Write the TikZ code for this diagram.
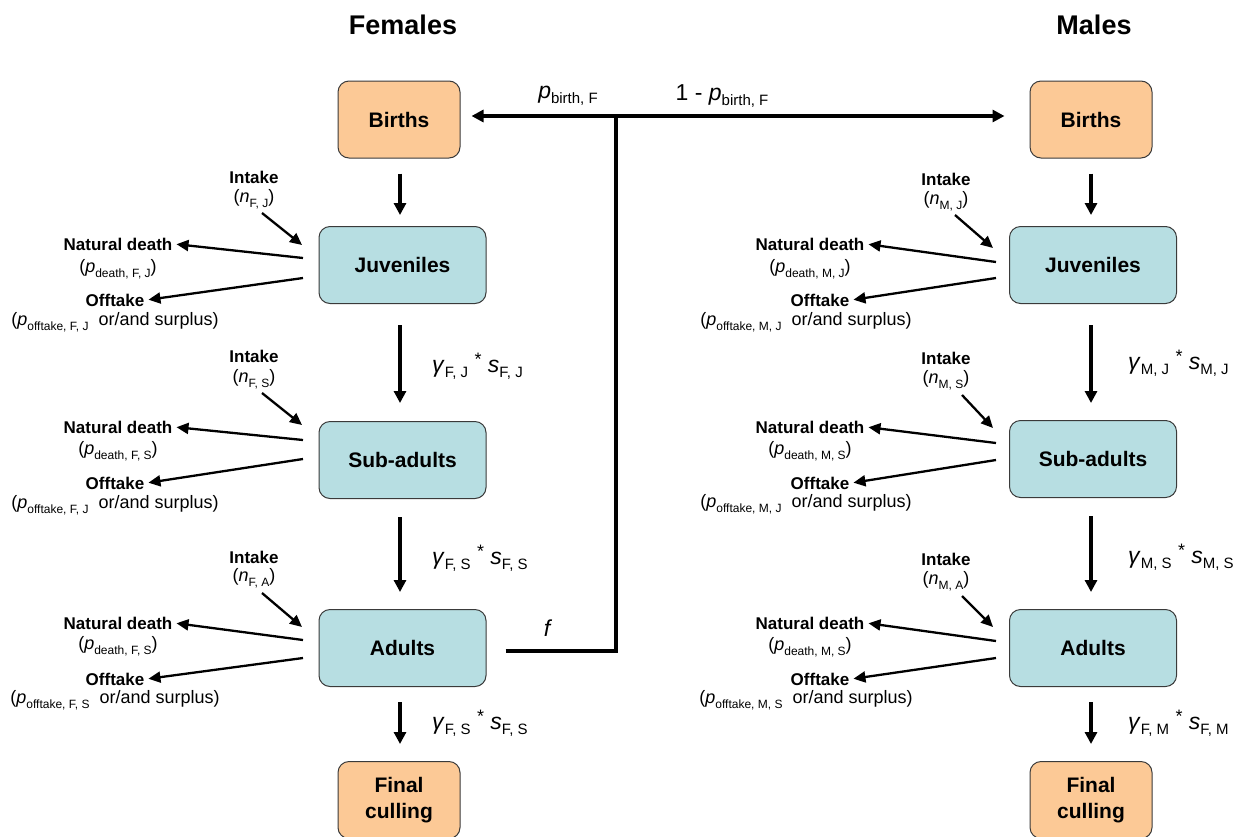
\documentclass[tikz,border=0pt]{standalone}
\usepackage{fontspec}
\setmainfont{Liberation Sans}
\usetikzlibrary{arrows.meta,calc}
\definecolor{orangefill}{HTML}{FCC996}
\definecolor{tealfill}{HTML}{B7DEE2}
\definecolor{boxline}{HTML}{3A3A3A}
\newcommand{\fs}[1]{\fontsize{#1}{#1}\selectfont}
\newcommand{\vsb}[2]{\textit{#1}\raisebox{-0.25em}{\fs{12}#2}}
\newcommand{\vsbb}[2]{\textit{#1}\raisebox{-0.22em}{\fs{15}#2}}
\newcommand{\gstar}{\raisebox{0.3em}{\fs{18}*}}
\begin{document}
\begin{tikzpicture}[x=1pt,y=-1pt,
  box/.style={draw=boxline, rounded corners=11pt, line width=1pt, font=\fs{21}\bfseries, align=center, inner sep=0pt, minimum height=77pt},
  obox/.style={box, fill=orangefill, minimum width=122pt},
  tbox/.style={box, fill=tealfill, minimum width=167pt},
  title/.style={font=\fs{27}\bfseries},
  blab/.style={font=\fs{17}\bfseries, inner sep=2pt},
  rlab/.style={font=\fs{18}, inner sep=2pt},
  glab/.style={font=\fs{23}, inner sep=2pt},
  big/.style={line width=3.5pt, -{Triangle[length=12pt,width=12pt]}},
  bigline/.style={line width=3.5pt},
  side/.style={line width=2.3pt, -{Triangle[length=12pt,width=11pt]}, shorten >=2pt}]
\useasboundingbox (0,0) rectangle (1252,836);

% titles
\node[title] (tF) at (403,25) {Females};
\node[title] (tM) at (1094,25) {Males};

% left column
\node[obox] (birthF) at (399,119.5) {Births};
\node[tbox] (juvF) at (402.5,265) {Juveniles};
\node[tbox] (subF) at (402.5,460) {Sub-adults};
\node[tbox] (adF) at (402.5,648) {Adults};
\node[obox] (cullF) at (399,800) {Final\\[5pt]culling};

% right column
\node[obox] (birthM) at (1091,119.5) {Births};
\node[tbox] (juvM) at (1093,265) {Juveniles};
\node[tbox] (subM) at (1093,459) {Sub-adults};
\node[tbox] (adM) at (1093,648) {Adults};
\node[obox] (cullM) at (1091,800) {Final\\[5pt]culling};

% vertical flows left
\coordinate (cL) at (400,0);
\coordinate (cR) at (1091,0);
\draw[big, shorten <=15pt, shorten >=11pt] (birthF.south -| cL) -- (juvF.north -| cL);
\draw[big, shorten <=21pt, shorten >=18pt] (juvF.south -| cL) -- (subF.north -| cL);
\draw[big, shorten <=18pt, shorten >=17pt] (subF.south -| cL) -- (adF.north -| cL);
\draw[big, shorten <=15pt, shorten >=17pt] (adF.south -| cL) -- (cullF.north -| cL);
% vertical flows right
\draw[big, shorten <=15pt, shorten >=11pt] (birthM.south -| cR) -- (juvM.north -| cR);
\draw[big, shorten <=21pt, shorten >=17pt] (juvM.south -| cR) -- (subM.north -| cR);
\draw[big, shorten <=18pt, shorten >=17pt] (subM.south -| cR) -- (adM.north -| cR);
\draw[big, shorten <=15pt, shorten >=17pt] (adM.south -| cR) -- (cullM.north -| cR);

% transition labels
\node[glab, anchor=west] (gFJ) at (430,366) {\textit{γ}\raisebox{-0.22em}{\fs{15}F, J} \gstar{} \vsbb{s}{F, J}};
\node[glab, anchor=west] (gFS) at (430,558) {\textit{γ}\raisebox{-0.22em}{\fs{15}F, S} \gstar{} \vsbb{s}{F, S}};
\node[glab, anchor=west] (gFS2) at (430,723) {\textit{γ}\raisebox{-0.22em}{\fs{15}F, S} \gstar{} \vsbb{s}{F, S}};
\node[glab, anchor=west] (gMJ) at (1126,363) {\textit{γ}\raisebox{-0.22em}{\fs{15}M, J} \gstar{} \vsbb{s}{M, J}};
\node[glab, anchor=west] (gMS) at (1126,557) {\textit{γ}\raisebox{-0.22em}{\fs{15}M, S} \gstar{} \vsbb{s}{M, S}};
\node[glab, anchor=west] (gFM) at (1126,723) {\textit{γ}\raisebox{-0.22em}{\fs{15}F, M} \gstar{} \vsbb{s}{F, M}};

% birth split
\coordinate (J) at (616,116);
\coordinate (fc) at (616,651);
\draw[big, shorten >=11pt] (J) -- (J -| birthF.east);
\draw[big, shorten >=25pt] (J) -- (J -| birthM.west);
\draw[bigline, line cap=butt, shorten <=19pt] (fc -| adF.east) -- (fc) -- (J);
\node[glab] (pbF) at (568,96) {\vsbb{p}{birth, F}};
\node[glab] (pbM) at (722,96) {1 - \vsbb{p}{birth, F}};
\node[glab] (fl) at (548,628) {\textit{f}};

% ---- left side groups ----
% juveniles F
\node[blab] (iFJ) at (254,177) {Intake};
\node[rlab] (nFJ) at (254,199) {(\vsb{n}{F, J})};
\node[blab] (ndFJ) at (118,244) {Natural death};
\node[rlab] (pdFJ) at (118,269) {(\vsb{p}{death, F, J})};
\node[blab] (otFJ) at (115,300) {Offtake};
\node[rlab] (poFJ) at (115,322) {(\vsb{p}{offtake, F, J}\ \ or/and surplus)};
\coordinate (aFJ1) at (262,213); \coordinate (aFJ2) at (302,245);
\coordinate (aFJ3) at (303,258); \coordinate (aFJ4) at (303,278);
\draw[side, shorten >=0pt] (aFJ1) -- (aFJ2);
\draw[side] (aFJ3) -- (ndFJ.east);
\draw[side] (aFJ4) -- (otFJ.east);
% sub-adults F
\node[blab] (iFS) at (254,356) {Intake};
\node[rlab] (nFS) at (254,379) {(\vsb{n}{F, S})};
\node[blab] (ndFS) at (118,427) {Natural death};
\node[rlab] (pdFS) at (118,451) {(\vsb{p}{death, F, S})};
\node[blab] (otFS) at (115,483) {Offtake};
\node[rlab] (poFS) at (115,505) {(\vsb{p}{offtake, F, J}\ \ or/and surplus)};
\coordinate (aFS1) at (262,393); \coordinate (aFS2) at (302,425);
\coordinate (aFS3) at (303,440); \coordinate (aFS4) at (303,459);
\draw[side, shorten >=0pt] (aFS1) -- (aFS2);
\draw[side] (aFS3) -- (ndFS.east);
\draw[side] (aFS4) -- (otFS.east);
% adults F
\node[blab] (iFA) at (254,557) {Intake};
\node[rlab] (nFA) at (254,578) {(\vsb{n}{F, A})};
\node[blab] (ndFA) at (118,623) {Natural death};
\node[rlab] (pdFA) at (118,646) {(\vsb{p}{death, F, S})};
\node[blab] (otFA) at (115,679) {Offtake};
\node[rlab] (poFA) at (115,700) {(\vsb{p}{offtake, F, S}\ \ or/and surplus)};
\coordinate (aFA1) at (262,593); \coordinate (aFA2) at (302,627);
\coordinate (aFA3) at (303,640); \coordinate (aFA4) at (303,658);
\draw[side, shorten >=0pt] (aFA1) -- (aFA2);
\draw[side] (aFA3) -- (ndFA.east);
\draw[side] (aFA4) -- (otFA.east);

% ---- right side groups ----
% juveniles M
\node[blab] (iMJ) at (946,179) {Intake};
\node[rlab] (nMJ) at (946,201) {(\vsb{n}{M, J})};
\node[blab] (ndMJ) at (810,244) {Natural death};
\node[rlab] (pdMJ) at (810,269) {(\vsb{p}{death, M, J})};
\node[blab] (otMJ) at (820,300) {Offtake};
\node[rlab] (poMJ) at (806,322) {(\vsb{p}{offtake, M, J}\ \ or/and surplus)};
\coordinate (aMJ1) at (955,215); \coordinate (aMJ2) at (993,248);
\coordinate (aMJ3) at (996,262); \coordinate (aMJ4) at (996,278);
\draw[side, shorten >=0pt] (aMJ1) -- (aMJ2);
\draw[side] (aMJ3) -- (ndMJ.east);
\draw[side] (aMJ4) -- (otMJ.east);
% sub-adults M
\node[blab] (iMS) at (946,358) {Intake};
\node[rlab] (nMS) at (946,380) {(\vsb{n}{M, S})};
\node[blab] (ndMS) at (810,427) {Natural death};
\node[rlab] (pdMS) at (810,451) {(\vsb{p}{death, M, S})};
\node[blab] (otMS) at (820,483) {Offtake};
\node[rlab] (poMS) at (806,504) {(\vsb{p}{offtake, M, J}\ \ or/and surplus)};
\coordinate (aMS1) at (962,395); \coordinate (aMS2) at (993,428);
\coordinate (aMS3) at (996,443); \coordinate (aMS4) at (996,460);
\draw[side, shorten >=0pt] (aMS1) -- (aMS2);
\draw[side] (aMS3) -- (ndMS.east);
\draw[side] (aMS4) -- (otMS.east);
% adults M
\node[blab] (iMA) at (946,559) {Intake};
\node[rlab] (nMA) at (946,581) {(\vsb{n}{M, A})};
\node[blab] (ndMA) at (810,623) {Natural death};
\node[rlab] (pdMA) at (810,647) {(\vsb{p}{death, M, S})};
\node[blab] (otMA) at (820,679) {Offtake};
\node[rlab] (poMA) at (806,700) {(\vsb{p}{offtake, M, S}\ \ or/and surplus)};
\coordinate (aMA1) at (962,596); \coordinate (aMA2) at (993,627);
\coordinate (aMA3) at (996,641); \coordinate (aMA4) at (996,658);
\draw[side, shorten >=0pt] (aMA1) -- (aMA2);
\draw[side] (aMA3) -- (ndMA.east);
\draw[side] (aMA4) -- (otMA.east);
\end{tikzpicture}
\end{document}
